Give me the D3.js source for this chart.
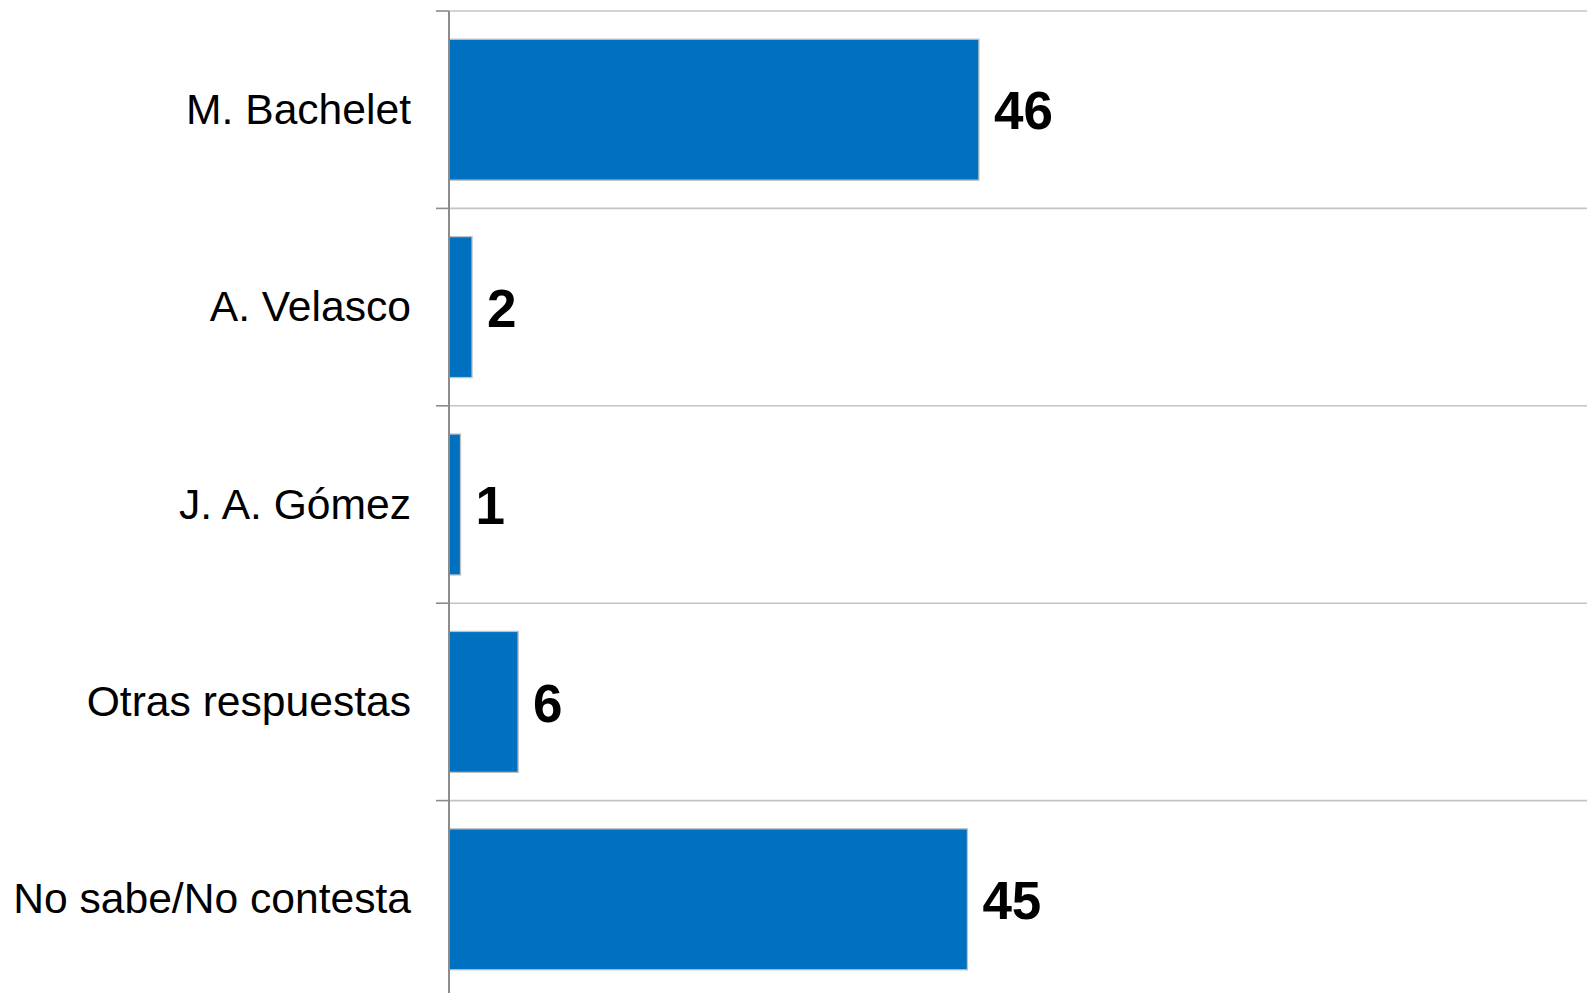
<!DOCTYPE html>
<html>
<head>
<meta charset="utf-8">
<script src="https://cdn.jsdelivr.net/npm/d3@7/dist/d3.min.js"></script>
<style>
  html, body { margin: 0; padding: 0; background: #fff; }
  svg { display: block; }
</style>
</head>
<body>
<svg id="chart" width="1587" height="993"></svg>
<script>
const categories = ["M. Bachelet", "A. Velasco", "J. A. Gómez", "Otras respuestas", "No sabe/No contesta"];
const values = [46, 2, 1, 6, 45];
const xDomain = [0, 100];

const W = 1587, H = 993;
const svg = d3.select("#chart");

const axisX = 449;
const plotTop = 11;
const bandStep = 197.4;

const y = d3.scaleBand()
  .domain(categories)
  .range([plotTop, plotTop + bandStep * categories.length])
  .paddingInner(0.286)
  .paddingOuter(0.143);

const x = d3.scaleLinear().domain(xDomain).range([axisX, axisX + 1152]);

const s = y.step();
const bounds = d3.range(categories.length + 1).map(i => plotTop + i * s);

// gridlines
svg.append("g").selectAll("line").data(bounds).join("line")
  .attr("x1", axisX).attr("x2", W)
  .attr("y1", d => d).attr("y2", d => d)
  .attr("stroke", "#c4c4c4").attr("stroke-width", 1.6);

// bars
svg.append("g").selectAll("rect").data(categories).join("rect")
  .attr("x", x(0))
  .attr("y", d => y(d))
  .attr("width", (d, i) => x(values[i]) - x(0))
  .attr("height", y.bandwidth())
  .attr("fill", "#0070C0")
  .attr("stroke", "#c0c0c0")
  .attr("stroke-width", 1.3);

// axis line and ticks
svg.append("line")
  .attr("x1", axisX).attr("x2", axisX)
  .attr("y1", plotTop).attr("y2", H)
  .attr("stroke", "#8c8c8c").attr("stroke-width", 2);
svg.append("g").selectAll("line").data(bounds).join("line")
  .attr("x1", axisX - 13).attr("x2", axisX)
  .attr("y1", d => d).attr("y2", d => d)
  .attr("stroke", "#8c8c8c").attr("stroke-width", 1.6);

// category labels
svg.append("g").selectAll("text").data(categories).join("text")
  .attr("x", 411)
  .attr("y", d => y(d) + y.bandwidth() / 2)
  .attr("dy", "0.33em")
  .attr("text-anchor", "end")
  .attr("font-family", "'Liberation Sans', Arial, sans-serif")
  .attr("font-size", 42.6)
  .attr("fill", "#000")
  .text(d => d);

// value labels
svg.append("g").selectAll("text").data(categories).join("text")
  .attr("x", (d, i) => x(values[i]) + 15)
  .attr("y", d => y(d) + y.bandwidth() / 2)
  .attr("dy", "0.37em")
  .attr("font-family", "'Liberation Sans', Arial, sans-serif")
  .attr("font-weight", "bold")
  .attr("font-size", 53)
  .attr("fill", "#000")
  .text((d, i) => values[i]);
</script>
</body>
</html>
